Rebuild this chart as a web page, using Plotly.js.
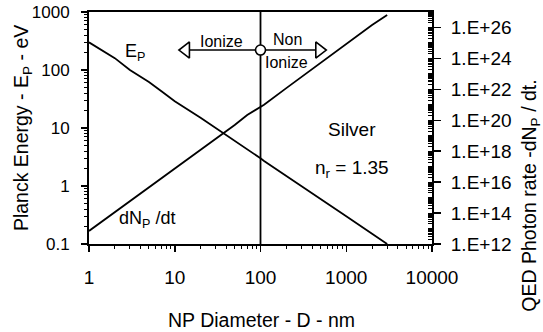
<!DOCTYPE html>
<html><head><meta charset="utf-8">
<script src="https://cdn.plot.ly/plotly-3.0.1.min.js"></script>
<style>html,body{margin:0;padding:0;background:#fff}#chart{width:543px;height:332px}</style>
</head><body><div id="chart"></div>
<script>
const diameterNm = [1, 2, 3, 5, 7, 10, 20, 30, 50, 70, 85, 100, 110, 200, 300, 500, 700, 1000, 2000, 3000];
const planckEnergyEv = [300, 160, 100, 62, 43, 29, 15, 10, 6.2, 4.4, 3.6, 3.0, 2.7, 1.5, 1.0, 0.6, 0.43, 0.3, 0.15, 0.1];
const photonRate = [7e12, 1.16e14, 6e14, 4.8e15, 1.9e16, 8.1e16, 1.35e18, 7e18, 4.9e19, 2.2e20, 4e20, 7.2e20, 1e21, 1.2e22, 6.3e22, 5e23, 1.9e24, 8.5e24, 1.45e26, 6.3e26];

const boundaryD = 100;
const boundaryLineY = [0.1, 1000];
const arrowX = [13.5, 485];
const arrowY = 221;

const xTickVals = [1, 10, 100, 1000, 10000];
const xTickText = ['1', '10', '100', '1000', '10000'];
const yTickVals = [0.1, 1, 10, 100, 1000];
const yTickText = ['0.1', '1', '10', '100', '1000'];
const y2TickVals = [1e12, 1e14, 1e16, 1e18, 1e20, 1e22, 1e24, 1e26];
const y2TickText = ['1.E+12', '1.E+14', '1.E+16', '1.E+18', '1.E+20', '1.E+22', '1.E+24', '1.E+26'];

function minorVals(e0, e1, withDecades) {
  const out = [];
  for (let e = e0; e < e1; e++) {
    if (withDecades) out.push(Math.pow(10, e));
    for (let m = 2; m <= 9; m++) out.push(m * Math.pow(10, e));
  }
  return out;
}

const FONT = 'Liberation Sans, Arial, sans-serif';
const black = '#000';
const f = (s) => ({family: FONT, size: s, color: black});

const traces = [
  {x: diameterNm, y: planckEnergyEv, mode: 'lines', line: {color: black, width: 1.8}, hoverinfo: 'skip'},
  {x: diameterNm, y: photonRate, yaxis: 'y2', mode: 'lines', line: {color: black, width: 1.8}, hoverinfo: 'skip'},
  {x: [boundaryD, boundaryD], y: boundaryLineY, mode: 'lines', line: {color: black, width: 1.8}, hoverinfo: 'skip'},
  {x: arrowX, y: [arrowY, arrowY], mode: 'lines', line: {color: black, width: 1.6}, hoverinfo: 'skip'},
  {x: [arrowX[0]], y: [arrowY], mode: 'markers', marker: {symbol: 'triangle-left', size: 14, color: '#fff', line: {color: black, width: 1.6}}, hoverinfo: 'skip'},
  {x: [arrowX[1]], y: [arrowY], mode: 'markers', marker: {symbol: 'triangle-right', size: 14, color: '#fff', line: {color: black, width: 1.6}}, hoverinfo: 'skip'},
  {x: [boundaryD], y: [arrowY], mode: 'markers', marker: {symbol: 'circle', size: 10, color: '#fff', line: {color: black, width: 1.6}}, hoverinfo: 'skip'}
];

function ann(text, x, y, size) {
  return {text: text, x: Math.log10(x), y: Math.log10(y), xref: 'x', yref: 'y', showarrow: false, font: f(size), xanchor: 'center', yanchor: 'middle'};
}

const layout = {
  width: 543, height: 332,
  margin: {l: 89, r: 111, t: 12, b: 88},
  paper_bgcolor: '#fff', plot_bgcolor: '#fff',
  showlegend: false,
  font: f(17),
  xaxis: {
    type: 'log', range: [0, 4], tickmode: 'array', tickvals: xTickVals, ticktext: xTickText,
    ticks: 'outside', ticklen: 6, tickwidth: 1.5, tickcolor: black, ticklabelstandoff: 9,
    minor: {tickmode: 'array', tickvals: minorVals(0, 4, false), ticks: 'outside', ticklen: 3, tickwidth: 1, tickcolor: black, showgrid: false},
    showline: true, linecolor: black, linewidth: 2, mirror: true, showgrid: false, zeroline: false,
    tickfont: f(19)
  },
  yaxis: {
    type: 'log', range: [-1, 3], tickmode: 'array', tickvals: yTickVals, ticktext: yTickText,
    ticks: 'outside', ticklen: 6, tickwidth: 1.5, tickcolor: black, ticklabelstandoff: 8,
    minor: {tickmode: 'array', tickvals: minorVals(-1, 3, false), ticks: 'outside', ticklen: 3, tickwidth: 1, tickcolor: black, showgrid: false},
    showline: true, linecolor: black, linewidth: 2, showgrid: false, zeroline: false,
    tickfont: f(17)
  },
  yaxis2: {
    type: 'log', range: [12, 27], overlaying: 'y', side: 'right', tickmode: 'array', tickvals: y2TickVals, ticktext: y2TickText,
    ticks: 'outside', ticklen: 7, tickwidth: 1.5, tickcolor: black, ticklabelstandoff: 6,
    minor: {tickmode: 'array', tickvals: minorVals(12, 27, true), ticks: 'inside', ticklen: 4, tickwidth: 1, tickcolor: black, showgrid: false},
    showline: true, linecolor: black, linewidth: 2, showgrid: false, zeroline: false,
    tickfont: f(19)
  },
  annotations: [
    ann('E<sub>P</sub>', 3.4, 200, 18),
    ann('dN<sub>P</sub> /dt', 4.7, 0.26, 18),
    ann('Ionize', 35, 316, 16),
    ann('Non', 204, 342, 16),
    ann('Ionize', 200, 137, 16),
    ann('Silver', 1155, 9.6, 19),
    ann('n<sub>r</sub> = 1.35', 1155, 2.0, 19),
    {text: 'NP Diameter - D - nm', xref: 'paper', yref: 'paper', x: 0.503, y: -0.328, showarrow: false, font: f(19.5), xanchor: 'center', yanchor: 'middle'},
    {text: 'Planck Energy - E<sub>P</sub> - eV', xref: 'paper', yref: 'paper', x: -0.195, y: 0.5, textangle: -90, showarrow: false, font: f(19.5), xanchor: 'center', yanchor: 'middle'},
    {text: 'QED Photon rate -dN<sub>P</sub> / dt.', xref: 'paper', yref: 'paper', x: 1.287, y: 0.21, textangle: -90, showarrow: false, font: f(19.5), xanchor: 'center', yanchor: 'middle'}
  ]
};

Plotly.newPlot('chart', traces, layout, {staticPlot: true, displayModeBar: false});
</script>
</body></html>
